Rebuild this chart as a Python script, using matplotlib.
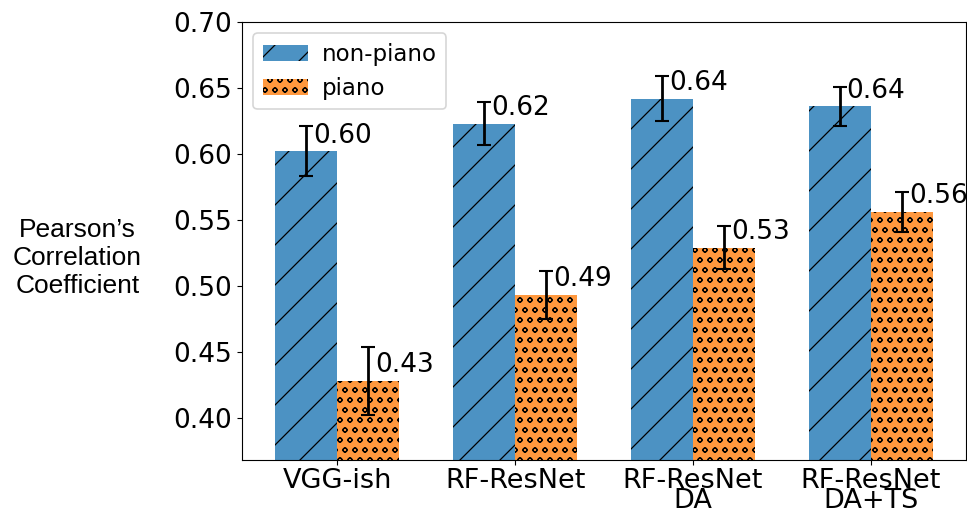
import numpy as np
import matplotlib.pyplot as plt

models = ["VGG-ish", "RF-ResNet", "RF-ResNet\nDA", "RF-ResNet\nDA+TS"]
non_piano = [0.602, 0.623, 0.642, 0.636]
non_piano_err = [0.019, 0.016, 0.017, 0.015]
piano = [0.428, 0.493, 0.529, 0.556]
piano_err = [0.026, 0.018, 0.016, 0.015]

# drawn at dpi 120 so the hatch spacing matches; sizes below are scaled back
DPI = 120
s = 100 / DPI
plt.rcParams["axes.linewidth"] = 0.8 * s
plt.rcParams["xtick.major.size"] = 3.5 * s
plt.rcParams["ytick.major.size"] = 3.5 * s
plt.rcParams["xtick.major.width"] = 0.8 * s
plt.rcParams["ytick.major.width"] = 0.8 * s
plt.rcParams["xtick.major.pad"] = 2.5 * s
plt.rcParams["ytick.major.pad"] = 3.5 * s
plt.rcParams["hatch.linewidth"] = 0.9 * s

fig = plt.figure(figsize=(967 / DPI, 515 / DPI), dpi=DPI)
ax = fig.add_axes([0.2503, 0.1068, 0.7487, 0.8505])

x = np.arange(len(models))
w = 0.35
ekw = dict(capsize=5 * s, elinewidth=2 * s, capthick=1.5 * s, ecolor="black")

ax.bar(x - w/2, non_piano, w, yerr=non_piano_err, color="tab:blue", alpha=0.8,
       hatch="/", label="non-piano", error_kw=ekw)
ax.bar(x + w/2, piano, w, yerr=piano_err, color="tab:orange", alpha=0.8,
       hatch="oo", label="piano", error_kw=ekw)

# value labels next to each error bar
for xs, vals in [(x - w/2, non_piano), (x + w/2, piano)]:
    for xi, v in zip(xs, vals):
        ax.annotate(f"{v:.2f}", xy=(xi, v), xytext=(5 * s, 2 * s), textcoords="offset points",
                    ha="left", va="bottom", fontsize=19 * s)

ax.set_ylim(0.368, 0.70)
ax.set_yticks([0.40, 0.45, 0.50, 0.55, 0.60, 0.65, 0.70])
ax.set_yticklabels([f"{t:.2f}" for t in ax.get_yticks()])
ax.set_xticks(x)
ax.set_xticklabels(models)
ax.tick_params(axis="y", labelsize=19 * s)
ax.tick_params(axis="x", labelsize=19.5 * s)
for lab in ax.get_xticklabels():
    lab.set_linespacing(0.66)

fig.text(142/967, 1 - 258/515, "Pearson’s\nCorrelation\nCoefficient", ha="right",
         va="center", multialignment="center", fontsize=19 * s, family="Liberation Sans")

ax.legend(loc="upper left", fontsize=16.5 * s, handletextpad=0.6)

fig.savefig("out.png", dpi=DPI)
